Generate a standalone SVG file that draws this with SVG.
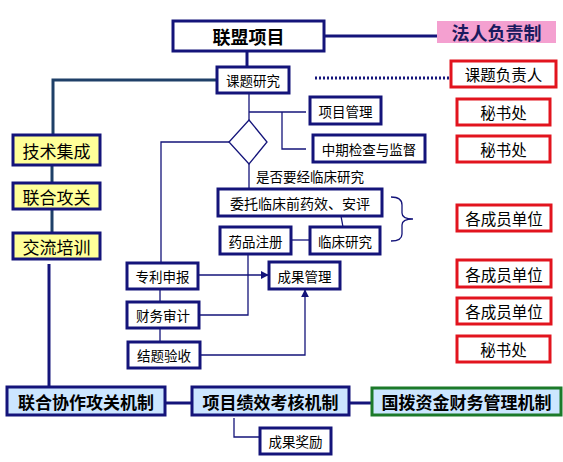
<svg xmlns="http://www.w3.org/2000/svg" width="563" height="462" viewBox="0 0 563 462">
<defs>
<marker id="ah" viewBox="0 0 10 10" refX="9" refY="5" markerWidth="8" markerHeight="8" markerUnits="userSpaceOnUse" orient="auto"><path d="M0,0 L10,5 L0,10 Z" fill="#14147a"/></marker>
</defs>
<style>
.n{fill:#fff;stroke:#14147a;stroke-width:3}
.y{fill:#ffff99;stroke:#14147a;stroke-width:3}
.b{fill:#cce6ff;stroke:#14147a;stroke-width:3}
.g{fill:#cce6ff;stroke:#1c7a2a;stroke-width:3}
.r{fill:#fff;stroke:#e2141e;stroke-width:3}
.t{font-family:"Noto Sans CJK SC","Noto Sans",sans-serif;fill:#000;text-anchor:middle;dominant-baseline:central}
.s13{font-size:13.5px}
.s14{font-size:15.5px}
.s17{font-size:17px}
.s16{font-size:17px;font-weight:bold}
.s18{font-size:18px;font-weight:bold}
.c{fill:none;stroke:#14147a;stroke-width:1.3}
.ck{fill:none;stroke:#14147a;stroke-width:3}
.cs{fill:none;stroke:#1f4068;stroke-width:3}
</style>
<g id="connectors">
<line class="ck" x1="247" y1="51" x2="247" y2="67"/>
<line class="ck" x1="324" y1="36" x2="437" y2="36"/>
<line x1="315" y1="78" x2="450" y2="78" stroke="#14147a" stroke-width="3" stroke-dasharray="2,2"/>
<polyline class="cs" points="217,80 53,80 53,135"/>
<line class="cs" x1="52" y1="165" x2="52" y2="183"/>
<line class="cs" x1="52" y1="209" x2="52" y2="233"/>
<line class="ck" x1="49" y1="264" x2="49" y2="387"/>
<line class="ck" x1="165" y1="403" x2="192" y2="403"/>
<line class="ck" x1="349" y1="403" x2="372" y2="403"/>
<polyline class="c" points="234,418 234,437 260,437"/>
<line class="c" x1="249" y1="93" x2="249" y2="120"/>
<line class="c" x1="249" y1="112" x2="306" y2="112"/>
<polyline class="c" points="282,112 282,149 306,149"/>
<polyline class="c" points="229,142 161,142 161,263"/>
<line class="c" x1="249" y1="164" x2="249" y2="189"/>
<line class="c" x1="341" y1="216" x2="343" y2="227"/>
<line class="c" x1="291" y1="240" x2="310" y2="240"/>
<polyline class="c" points="248,254 248,315 199,315"/>
<line class="c" x1="160" y1="289" x2="160" y2="302"/>
<line class="c" x1="160" y1="328" x2="160" y2="342"/>
<line class="c" x1="198" y1="275" x2="268" y2="275" marker-end="url(#ah)"/>
<polyline class="c" points="200,355 305,355 305,290" marker-end="url(#ah)"/>
<path class="c" d="M391,197 Q402,197 402,205 L402,213 Q402,219 413,219 Q402,219 402,225 L402,234 Q402,241 391,241"/>
</g>
<g id="n1"><rect class="n" x="173" y="21" width="151" height="30"/><text class="t s18" x="248.5" y="36">联盟项目</text></g>
<g id="n2"><rect x="437" y="21" width="119" height="22" fill="#f4a0d0"/><text class="t s18" x="496.5" y="32" style="fill:#1a1a5e">法人负责制</text></g>
<g id="n3"><rect class="n" x="217" y="67" width="72" height="26"/><text class="t s13" x="253" y="80">课题研究</text></g>
<g id="n4"><rect class="r" x="451" y="61" width="105" height="26"/><text class="t s14" x="503.5" y="74">课题负责人</text></g>
<g id="n5"><rect class="n" x="310" y="97" width="71" height="27"/><text class="t s13" x="345.5" y="110.5">项目管理</text></g>
<g id="n6"><rect class="r" x="457" y="99" width="93" height="26"/><text class="t s14" x="503.5" y="112">秘书处</text></g>
<g id="n7"><rect class="n" x="313" y="135" width="112" height="27"/><text class="t s13" x="369" y="148.5">中期检查与监督</text></g>
<g id="n8"><rect class="r" x="457" y="136" width="93" height="26"/><text class="t s14" x="503.5" y="149">秘书处</text></g>
<g id="n9"><polygon points="249,120 267,142 249,164 229,142" fill="#fff" stroke="#14147a" stroke-width="1.3"/></g>
<text class="t s13" x="256" y="176" style="text-anchor:start">是否要经临床研究</text>
<g id="n10"><rect class="y" x="13" y="135" width="87" height="30"/><text class="t s17" x="56.5" y="150">技术集成</text></g>
<g id="n11"><rect class="y" x="13" y="183" width="87" height="26"/><text class="t s17" x="56.5" y="196">联合攻关</text></g>
<g id="n12"><rect class="y" x="13" y="233" width="87" height="26"/><text class="t s17" x="56.5" y="246">交流培训</text></g>
<g id="n13"><rect class="n" x="218" y="189" width="164" height="27"/><text class="t s13" x="300" y="202.5" style="font-size:14px">委托临床前药效、安评</text></g>
<g id="n14"><rect class="n" x="220" y="227" width="71" height="27"/><text class="t s13" x="255.5" y="240.5">药品注册</text></g>
<g id="n15"><rect class="n" x="310" y="227" width="70" height="27"/><text class="t s13" x="345" y="240.5">临床研究</text></g>
<g id="n16"><rect class="r" x="457" y="205" width="94" height="26"/><text class="t s14" x="504" y="218">各成员单位</text></g>
<g id="n17"><rect class="n" x="127" y="263" width="71" height="26"/><text class="t s13" x="162.5" y="276">专利申报</text></g>
<g id="n18"><rect class="n" x="269" y="262" width="71" height="27"/><text class="t s13" x="304.5" y="275.5">成果管理</text></g>
<g id="n19"><rect class="r" x="457" y="260" width="94" height="27"/><text class="t s14" x="504" y="273.5">各成员单位</text></g>
<g id="n20"><rect class="n" x="127" y="302" width="72" height="26"/><text class="t s13" x="163" y="315">财务审计</text></g>
<g id="n21"><rect class="r" x="457" y="298" width="94" height="26"/><text class="t s14" x="504" y="311">各成员单位</text></g>
<g id="n22"><rect class="n" x="128" y="342" width="72" height="26"/><text class="t s13" x="164" y="355">结题验收</text></g>
<g id="n23"><rect class="r" x="457" y="336" width="93" height="26"/><text class="t s14" x="503.5" y="349">秘书处</text></g>
<g id="n24"><rect class="b" x="7" y="387" width="158" height="28"/><text class="t s16" x="86" y="401">联合协作攻关机制</text></g>
<g id="n25"><rect class="b" x="192" y="387" width="157" height="28"/><text class="t s16" x="270.5" y="401">项目绩效考核机制</text></g>
<g id="n26"><rect class="g" x="372" y="388" width="189" height="27"/><text class="t s16" x="466.5" y="401.5">国拨资金财务管理机制</text></g>
<g id="n27"><rect class="n" x="260" y="428" width="71" height="26"/><text class="t s13" x="295.5" y="441">成果奖励</text></g>
</svg>
